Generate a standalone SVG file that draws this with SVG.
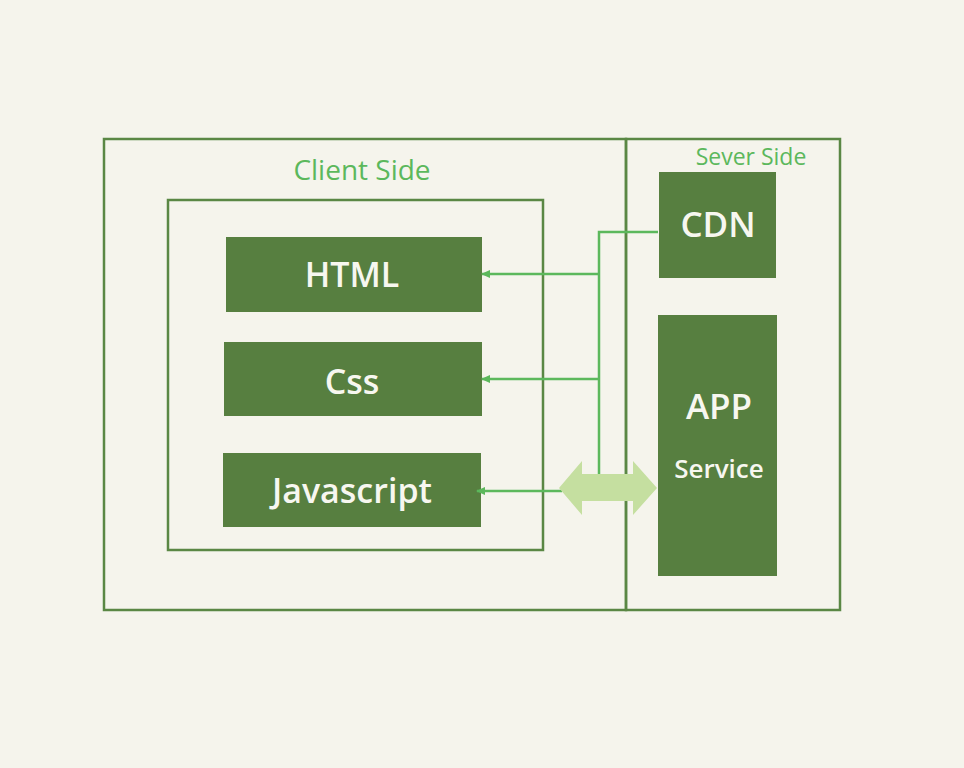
<svg xmlns="http://www.w3.org/2000/svg" width="964" height="768" viewBox="0 0 964 768">
<defs>
<style>
.frame{fill:none;stroke:#5a8744;stroke-width:2.5}
.box{fill:#577f40}
.lbl{font-family:"Open Sans","Noto Sans","Liberation Sans",sans-serif;fill:#f7f7f0;text-anchor:middle;font-weight:600}
.title{font-family:"Open Sans","Noto Sans","Liberation Sans",sans-serif;fill:#5cb85c;text-anchor:middle;font-weight:500}
.conn{fill:none;stroke:#5cb85c;stroke-width:2.5}
</style>
<marker id="ah" markerWidth="10" markerHeight="10" refX="8" refY="5" orient="auto" markerUnits="userSpaceOnUse">
<path d="M0,1 L9,5 L0,9 Z" fill="#5cb85c"/>
</marker>
</defs>
<rect width="964" height="768" fill="#f5f4ec"/>
<g id="client-side">
<rect class="frame" x="104" y="139" width="522" height="471"/>
<text class="title" x="362" y="180" font-size="28">Client Side</text>
</g>
<g id="server-side">
<rect class="frame" x="626" y="139" width="214" height="471"/>
<text class="title" x="751" y="165" font-size="23">Sever Side</text>
</g>
<g id="browser">
<rect class="frame" x="168" y="200" width="375" height="350"/>
</g>
<g id="html">
<rect class="box" x="226" y="237" width="256" height="75"/>
<text class="lbl" x="352" y="287" font-size="34">HTML</text>
</g>
<g id="css">
<rect class="box" x="224" y="342" width="258" height="74"/>
<text class="lbl" x="352" y="394" font-size="34">Css</text>
</g>
<g id="javascript">
<rect class="box" x="223" y="453" width="258" height="74"/>
<text class="lbl" x="352" y="503" font-size="34">Javascript</text>
</g>
<g id="cdn">
<rect class="box" x="659" y="172" width="117" height="106"/>
<text class="lbl" x="718" y="237" font-size="35">CDN</text>
</g>
<g id="app-service">
<rect class="box" x="658" y="315" width="119" height="261"/>
<text class="lbl" x="719" y="419" font-size="35">APP</text>
<text class="lbl" x="719" y="478" font-size="26">Service</text>
</g>
<g id="connectors">
<path class="conn" d="M658,232 H599 V476"/>
<path class="conn" d="M599,274 H482" marker-end="url(#ah)"/>
<path class="conn" d="M599,379 H482" marker-end="url(#ah)"/>
<path class="conn" d="M562,491 H477" marker-end="url(#ah)"/>
<polygon points="559,488 582,461 582,474 633,474 633,461 657,488 633,515 633,501 582,501 582,515" fill="#c5dfa0"/>
</g>
</svg>
